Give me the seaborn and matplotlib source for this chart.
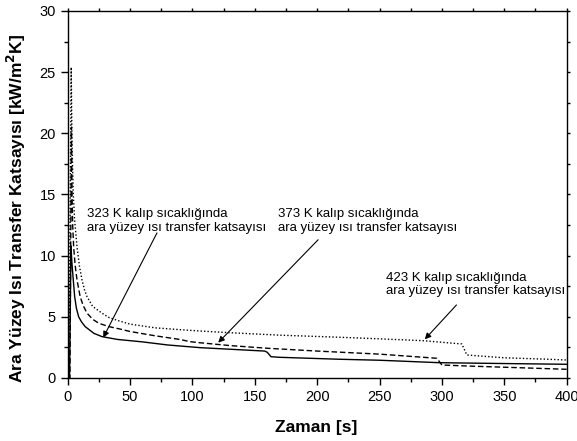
import numpy as np
import pandas as pd
import matplotlib
matplotlib.use("Agg")
import matplotlib.pyplot as plt
import seaborn as sns
from matplotlib.ticker import MultipleLocator

# --- data ---
t_323 = [0, 1.5, 2.6, 3.4, 4.5, 5.6, 7.0, 8.8, 11, 14, 21, 27.5, 40, 60, 80, 106, 130, 158, 160, 163, 170, 218, 250, 298, 350, 400]
h_323 = [0, 0, 10.8, 9.4, 8.0, 6.65, 5.7, 5.0, 4.6, 4.2, 3.65, 3.38, 3.15, 2.95, 2.7, 2.48, 2.35, 2.2, 2.1, 1.74, 1.69, 1.53, 1.45, 1.25, 1.18, 1.12]

t_373 = [0, 1.8, 3.0, 3.5, 4.0, 4.8, 6.0, 7.5, 10, 12.5, 15.5, 20, 25, 33, 42, 50, 70, 90, 98, 106, 130, 160, 200, 250, 296, 300, 320, 350, 400]
h_373 = [0, 0, 20.5, 15.0, 12.5, 10.7, 9.2, 8.0, 6.65, 5.9, 5.3, 4.8, 4.47, 4.2, 4.0, 3.8, 3.45, 3.15, 2.97, 2.88, 2.65, 2.43, 2.2, 1.95, 1.61, 1.06, 0.98, 0.88, 0.71]

t_423 = [0, 1.0, 2.8, 3.5, 4.5, 5.5, 7.5, 9.5, 11.5, 13.5, 15.5, 20, 27.5, 33, 40, 50, 70, 90, 106, 130, 170, 218, 250, 285, 316, 320, 330, 350, 380, 400]
h_423 = [0, 0, 25.4, 19.0, 15.0, 13.0, 10.7, 9.1, 8.0, 7.2, 6.65, 5.85, 5.3, 4.95, 4.7, 4.4, 4.1, 3.95, 3.84, 3.7, 3.5, 3.33, 3.2, 3.05, 2.78, 1.88, 1.8, 1.65, 1.55, 1.47]

labels = ["323 K kalıp sıcaklığında\nara yüzey ısı transfer katsayısı",
          "373 K kalıp sıcaklığında\nara yüzey ısı transfer katsayısı",
          "423 K kalıp sıcaklığında\nara yüzey ısı transfer katsayısı"]

sns.set_style("ticks")
plt.rcParams['font.family'] = ['Liberation Sans', 'DejaVu Sans']
plt.rcParams['text.color'] = 'black'
plt.rcParams['axes.labelcolor'] = 'black'
plt.rcParams['xtick.color'] = 'black'
plt.rcParams['ytick.color'] = 'black'

fig = plt.figure(figsize=(5.77, 4.41), dpi=100)
ax = fig.add_axes([0.1173, 0.1429, 0.8647, 0.8322])

sns.lineplot(x=t_323, y=h_323, ax=ax, color='black', lw=1.0, linestyle='-', estimator=None, sort=False)
sns.lineplot(x=t_373, y=h_373, ax=ax, color='black', lw=1.0, linestyle=(0, (4, 2)), estimator=None, sort=False)
sns.lineplot(x=t_423, y=h_423, ax=ax, color='black', lw=1.0, linestyle=(0, (1, 1.5)), estimator=None, sort=False)

ax.set_xlim(0, 400)
ax.set_ylim(0, 30)
ax.xaxis.set_major_locator(MultipleLocator(50))
ax.xaxis.set_minor_locator(MultipleLocator(25))
ax.yaxis.set_major_locator(MultipleLocator(5))
ax.yaxis.set_minor_locator(MultipleLocator(2.5))
for s in ax.spines.values():
    s.set_visible(True)
    s.set_linewidth(1.0)
    s.set_color('black')
ax.tick_params(axis='both', which='major', direction='out', length=5, width=1, labelsize=10.5,
               colors='black', labelcolor='black')
ax.tick_params(axis='both', which='minor', direction='out', length=3, width=1, colors='black')
ax.tick_params(top=True, right=True, which='both')
ax.tick_params(which='both', labeltop=False, labelright=False)
for tick in ax.xaxis.get_major_ticks() + ax.xaxis.get_minor_ticks():
    tick.tick2line.set_markersize(2)
for tick in ax.yaxis.get_major_ticks() + ax.yaxis.get_minor_ticks():
    tick.tick2line.set_markersize(2)

ax.set_xlabel("Zaman [s]", fontsize=12.5, fontweight='bold', color='black')
ax.set_ylabel("Ara Yüzey Isı Transfer Katsayısı [kW/m$^\\mathbf{2}$K]", fontsize=12.5,
              fontweight='bold', color='black')
ax.xaxis.set_label_coords(0.498, -0.114)
ax.yaxis.set_label_coords(-0.079, 0.463)

arrow = dict(arrowstyle='-|>', color='black', lw=0.8, mutation_scale=9, shrinkA=0, shrinkB=0)
ax.text(15.5, 13.9, labels[0], fontsize=9.5, ha='left', va='top', linespacing=1.2, color='black')
ax.annotate('', xy=(28.5, 3.3), xytext=(71.6, 11.86), arrowprops=arrow)
ax.text(168.5, 13.9, labels[1], fontsize=9.5, ha='left', va='top', linespacing=1.2, color='black')
ax.annotate('', xy=(120.7, 2.89), xytext=(200.8, 11.3), arrowprops=arrow)
ax.text(255, 8.7, labels[2], fontsize=9.5, ha='left', va='top', linespacing=1.2, color='black')
ax.annotate('', xy=(286.3, 3.16), xytext=(311.7, 5.97), arrowprops=arrow)

fig.savefig("out.png", dpi=100)
